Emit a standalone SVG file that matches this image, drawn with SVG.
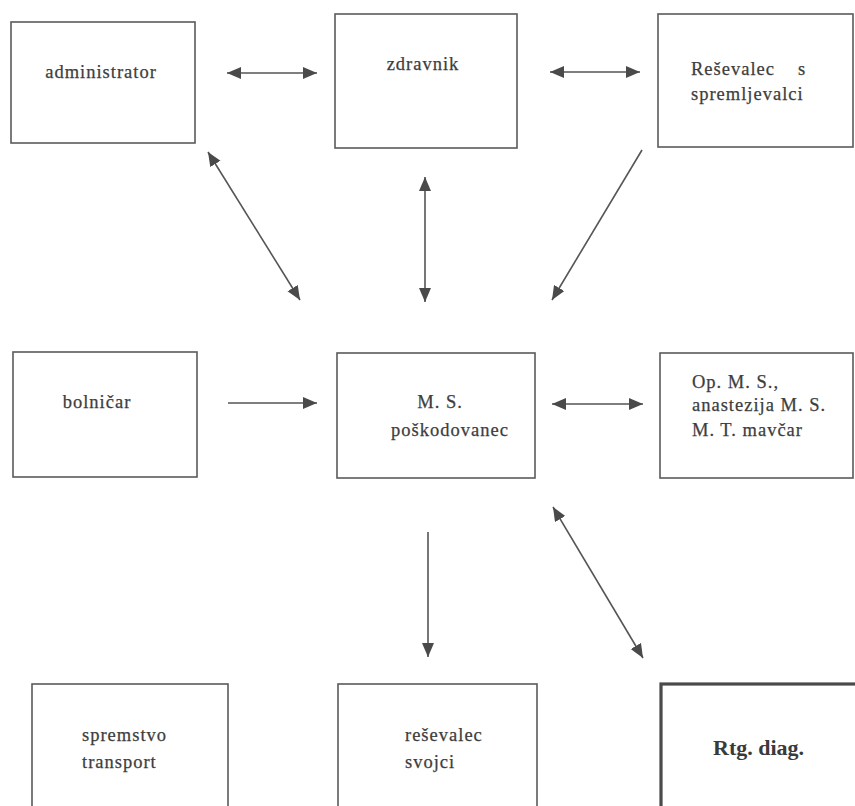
<svg xmlns="http://www.w3.org/2000/svg" width="855" height="806" viewBox="0 0 855 806">
<defs>
<marker id="ah" markerUnits="userSpaceOnUse" markerWidth="15" markerHeight="13" refX="14" refY="6" orient="auto-start-reverse">
<path d="M0,0 L14,6 L0,12 z" fill="#4a4a4a"/>
</marker>
<style>
.box{fill:none;stroke:#5a5a5a;stroke-width:1.6}
.thick{fill:none;stroke:#4a4a4a;stroke-width:3.2}
.t{font-family:"Liberation Serif","DejaVu Serif",serif;font-size:18.5px;fill:#3d3d3d;stroke:#3d3d3d;stroke-width:0.25;letter-spacing:1px}
.b{font-family:"Liberation Serif","DejaVu Serif",serif;font-size:22px;font-weight:bold;fill:#3a3a3a}
.c{stroke:#555;stroke-width:1.6;fill:none}
</style>
</defs>
<rect width="855" height="806" fill="#ffffff"/>
<g id="administrator"><rect class="box" x="11" y="22" width="184" height="121"/><text class="t" x="101" y="78" text-anchor="middle">administrator</text></g>
<g id="zdravnik"><rect class="box" x="335" y="14" width="182" height="134"/><text class="t" x="423" y="70" text-anchor="middle">zdravnik</text></g>
<g id="resevalec-s"><rect class="box" x="658" y="14" width="195" height="133"/><text class="t" x="691" y="75">Reševalec<tspan x="798">s</tspan></text><text class="t" x="691" y="100">spremljevalci</text></g>
<g id="bolnicar"><rect class="box" x="13" y="352" width="184" height="125"/><text class="t" x="97" y="408" text-anchor="middle">bolničar</text></g>
<g id="ms"><rect class="box" x="337" y="353" width="198" height="125"/><text class="t" x="440" y="408" text-anchor="middle">M. S.</text><text class="t" x="450" y="436" text-anchor="middle">poškodovanec</text></g>
<g id="op"><rect class="box" x="660" y="353" width="193" height="125"/><text class="t" x="692" y="388">Op. M. S.,</text><text class="t" x="692" y="411">anastezija M. S.</text><text class="t" x="692" y="436">M. T. mavčar</text></g>
<g id="spremstvo"><rect class="box" x="32" y="684" width="196" height="140"/><text class="t" x="82" y="741">spremstvo</text><text class="t" x="82" y="768">transport</text></g>
<g id="resevalec-svojci"><rect class="box" x="338" y="684" width="199" height="140"/><text class="t" x="405" y="741">reševalec</text><text class="t" x="405" y="768">svojci</text></g>
<g id="rtg"><rect class="thick" x="661" y="684" width="200" height="140"/><text class="b" x="713" y="755">Rtg. diag.</text></g>
<g id="connectors">
<line class="c" x1="227" y1="73" x2="317" y2="73" marker-start="url(#ah)" marker-end="url(#ah)"/>
<line class="c" x1="550" y1="72" x2="640" y2="72" marker-start="url(#ah)" marker-end="url(#ah)"/>
<line class="c" x1="208" y1="152" x2="300" y2="300" marker-start="url(#ah)" marker-end="url(#ah)"/>
<line class="c" x1="425" y1="177" x2="425" y2="302" marker-start="url(#ah)" marker-end="url(#ah)"/>
<line class="c" x1="642" y1="150" x2="552" y2="300" marker-end="url(#ah)"/>
<line class="c" x1="228" y1="403" x2="317" y2="403" marker-end="url(#ah)"/>
<line class="c" x1="552" y1="404" x2="643" y2="404" marker-start="url(#ah)" marker-end="url(#ah)"/>
<line class="c" x1="428" y1="532" x2="428" y2="657" marker-end="url(#ah)"/>
<line class="c" x1="553" y1="507" x2="643" y2="658" marker-start="url(#ah)" marker-end="url(#ah)"/>
</g>
</svg>
